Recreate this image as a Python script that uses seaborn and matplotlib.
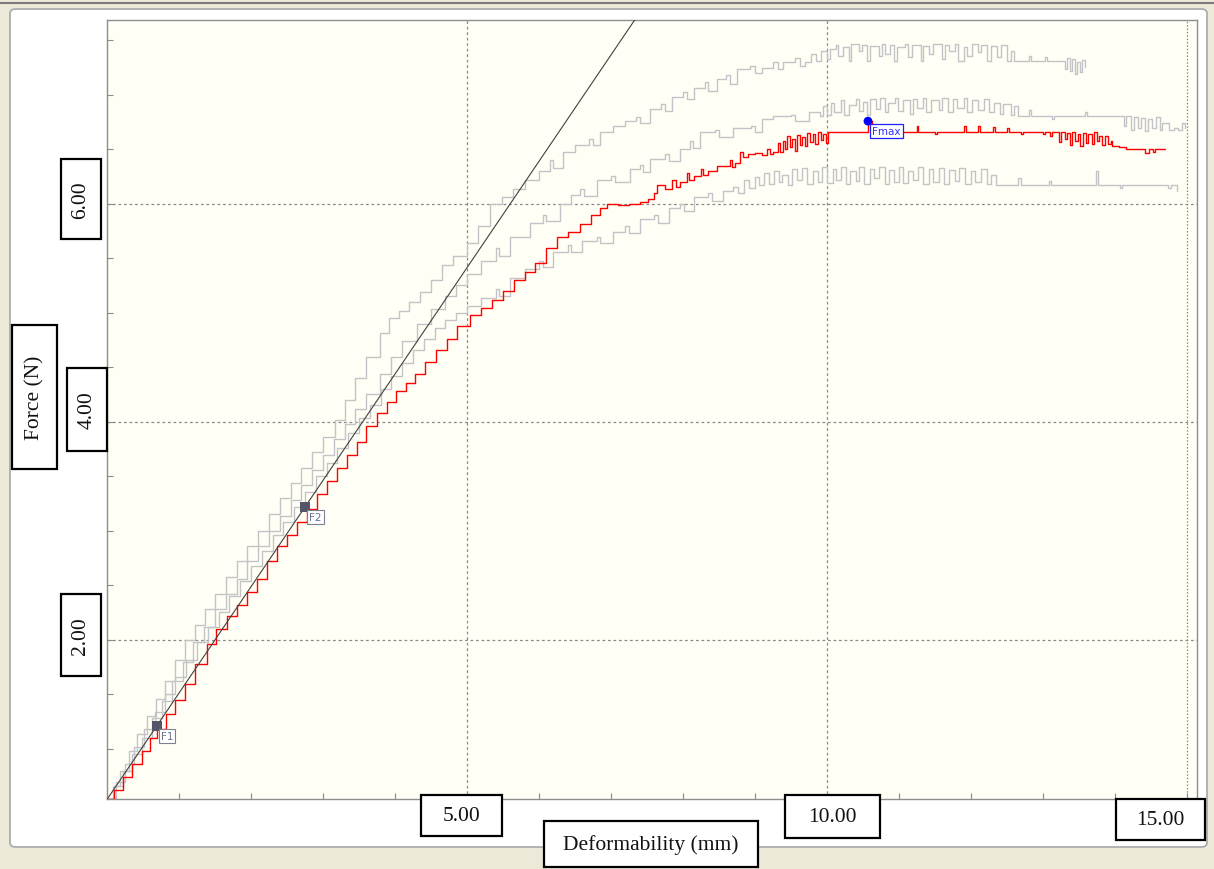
import numpy as np
import pandas as pd
import matplotlib
matplotlib.use("Agg")
import matplotlib.pyplot as plt
import seaborn as sns
from matplotlib.patches import Rectangle, FancyBboxPatch
from matplotlib.lines import Line2D

# ---------------- data ----------------
red_pts = [(0.00,0.54),(0.10,0.62),(0.22,0.74),(0.35,0.86),(0.48,0.98),(0.60,1.10),(0.69,1.18),
    (0.82,1.32),(0.95,1.45),(1.08,1.60),(1.22,1.78),(1.39,1.96),(1.52,2.10),(1.66,2.22),(1.80,2.32),
    (1.94,2.44),(2.08,2.56),(2.22,2.72),(2.36,2.86),(2.50,2.96),(2.64,3.08),(2.78,3.20),(2.92,3.34),
    (3.06,3.46),(3.20,3.58),(3.34,3.70),(3.47,3.82),(3.60,3.96),(3.75,4.08),(3.89,4.18),(4.02,4.28),
    (4.15,4.36),(4.28,4.44),(4.42,4.55),(4.57,4.66),(4.72,4.76),(4.86,4.88),(5.04,4.98),(5.20,5.05),
    (5.35,5.12),(5.50,5.20),(5.65,5.30),(5.80,5.38),(5.95,5.46),(6.10,5.60),(6.25,5.70),(6.40,5.74),
    (6.57,5.82),(6.72,5.90),(6.85,5.96),(6.94,6.00),(7.10,5.99),(7.25,6.00),(7.40,6.02),(7.52,6.05),
    (7.60,6.10),(7.64,6.17),(7.75,6.14),(7.85,6.22),(7.90,6.16),(7.96,6.20),(8.05,6.28),(8.09,6.22),
    (8.15,6.26),(8.25,6.32),(8.28,6.27),(8.35,6.30),(8.47,6.35),(8.55,6.35),(8.65,6.40),(8.68,6.34),
    (8.72,6.38),(8.79,6.48),(8.84,6.43),(8.90,6.46),(9.00,6.47),(9.10,6.45),(9.17,6.50),(9.21,6.46),
    (9.25,6.48),(9.32,6.56),(9.35,6.48),(9.39,6.58),(9.42,6.50),(9.45,6.62),(9.49,6.52),(9.52,6.60),
    (9.56,6.49),(9.58,6.63),(9.62,6.54),(9.65,6.61),(9.69,6.53),(9.72,6.65),(9.76,6.57),(9.80,6.64),
    (9.84,6.55),(9.88,6.66),(9.92,6.59),(9.95,6.64),(9.98,6.56),(10.02,6.66),(10.30,6.66),(10.50,6.66),
    (10.57,6.76),(10.62,6.66),(11.23,6.66),(11.25,6.72),(11.27,6.66),(11.50,6.64),(11.53,6.66),
    (11.90,6.72),(11.93,6.66),(12.10,6.72),(12.13,6.66),(12.30,6.71),(12.33,6.66),(12.50,6.70),(12.53,6.66),
    (12.70,6.64),(12.73,6.66),(13.00,6.64),(13.03,6.66),(13.10,6.62),(13.13,6.66),(13.22,6.57),
    (13.25,6.66),(13.30,6.60),(13.33,6.65),(13.38,6.54),(13.41,6.66),(13.45,6.58),(13.49,6.64),
    (13.52,6.53),(13.55,6.65),(13.60,6.56),(13.63,6.64),(13.68,6.55),(13.71,6.66),(13.75,6.58),
    (13.78,6.62),(13.82,6.54),(13.86,6.62),(13.90,6.55),(13.94,6.58),(13.96,6.53),(14.05,6.52),
    (14.15,6.50),(14.40,6.50),(14.42,6.47),(14.47,6.50),(14.53,6.48),(14.56,6.50),(14.70,6.50)]

gray_a_pts = [(0.00,0.54),(0.08,0.66),(0.18,0.80),(0.30,0.98),(0.42,1.14),(0.55,1.30),(0.68,1.46),
    (0.80,1.62),(0.94,1.82),(1.08,2.00),(1.22,2.14),(1.36,2.28),(1.50,2.42),(1.65,2.58),(1.80,2.72),
    (1.95,2.86),(2.10,3.00),(2.25,3.16),(2.40,3.30),(2.55,3.44),(2.70,3.58),(2.85,3.72),(3.00,3.86),
    (3.17,4.02),(3.30,4.20),(3.45,4.40),(3.60,4.60),(3.79,4.82),(3.92,4.95),(4.05,5.02),(4.20,5.10),
    (4.35,5.19),(4.50,5.30),(4.65,5.44),(4.80,5.52),(5.00,5.64),(5.15,5.80),(5.32,6.00),(5.48,6.06),
    (5.64,6.14),(5.80,6.22),(6.00,6.30),(6.15,6.40),(6.20,6.33),(6.33,6.48),(6.50,6.54),(6.70,6.60),
    (6.75,6.54),(6.85,6.66),(7.03,6.72),(7.20,6.76),(7.35,6.80),(7.40,6.74),(7.54,6.87),(7.70,6.92),
    (7.75,6.85),(7.85,6.98),(8.00,7.03),(8.05,6.96),(8.15,7.06),(8.30,7.12),(8.35,7.04),(8.47,7.15),
    (8.60,7.18),(8.66,7.10),(8.75,7.24),(8.93,7.27),(9.00,7.20),(9.10,7.25),(9.25,7.30),(9.32,7.24),
    (9.39,7.30),(9.55,7.34),(9.62,7.27),(9.70,7.30),(9.78,7.38),(9.85,7.31),(9.92,7.40),(10.00,7.33),
    (10.04,7.42),(10.12,7.46),(10.16,7.36),(10.22,7.44),(10.30,7.31),(10.34,7.47),(10.45,7.40),
    (10.49,7.46),(10.55,7.31),(10.60,7.45),(10.72,7.36),(10.76,7.47),(10.80,7.38),(10.88,7.46),
    (10.93,7.31),(10.97,7.44),(11.08,7.47),(11.12,7.35),(11.18,7.46),(11.30,7.31),(11.34,7.45),
    (11.42,7.38),(11.47,7.47),(11.60,7.33),(11.64,7.46),(11.70,7.40),(11.78,7.47),(11.82,7.31),
    (11.90,7.44),(11.95,7.36),(12.02,7.47),(12.10,7.39),(12.14,7.46),(12.22,7.31),(12.28,7.45),
    (12.36,7.35),(12.42,7.46),(12.50,7.31),(12.56,7.40),(12.60,7.31),(12.80,7.36),(12.83,7.31),
    (13.00,7.31),(13.03,7.35),(13.06,7.31),(13.26,7.31),(13.30,7.24),(13.33,7.34),(13.37,7.22),
    (13.40,7.33),(13.44,7.19),(13.47,7.30),(13.51,7.21),(13.54,7.32),(13.58,7.26)]

gray_b_pts = [(0.00,0.54),(0.10,0.66),(0.22,0.80),(0.35,0.95),(0.48,1.10),(0.62,1.28),(0.76,1.44),
    (0.90,1.62),(1.05,1.80),(1.20,1.98),(1.35,2.12),(1.50,2.28),(1.65,2.42),(1.80,2.56),(1.95,2.72),
    (2.10,2.86),(2.25,3.00),(2.40,3.14),(2.55,3.28),(2.70,3.42),(2.85,3.56),(3.00,3.70),(3.15,3.84),
    (3.30,3.98),(3.45,4.12),(3.60,4.26),(3.79,4.44),(3.95,4.60),(4.10,4.74),(4.30,4.90),(4.50,5.04),
    (4.70,5.16),(4.85,5.26),(5.00,5.36),(5.20,5.48),(5.40,5.60),(5.45,5.52),(5.60,5.70),(5.88,5.83),
    (6.05,5.90),(6.10,5.84),(6.29,6.00),(6.45,6.08),(6.57,6.14),(6.62,6.07),(6.80,6.22),(7.00,6.26),
    (7.05,6.20),(7.26,6.32),(7.40,6.36),(7.45,6.29),(7.54,6.41),(7.75,6.46),(7.80,6.39),(7.96,6.50),
    (8.10,6.58),(8.14,6.51),(8.24,6.66),(8.45,6.68),(8.50,6.61),(8.70,6.70),(8.95,6.72),(9.00,6.66),
    (9.10,6.78),(9.25,6.81),(9.50,6.82),(9.55,6.76),(9.75,6.84),(9.90,6.81),(9.95,6.90),(10.00,6.82),
    (10.06,6.93),(10.10,6.84),(10.20,6.95),(10.24,6.82),(10.30,6.91),(10.40,6.96),(10.44,6.85),
    (10.50,6.94),(10.56,6.82),(10.60,6.96),(10.68,6.87),(10.73,6.97),(10.80,6.84),(10.85,6.93),
    (10.95,6.97),(10.99,6.85),(11.05,6.95),(11.15,6.83),(11.20,6.96),(11.25,6.88),(11.33,6.97),
    (11.38,6.84),(11.45,6.95),(11.55,6.86),(11.60,6.97),(11.68,6.84),(11.75,6.96),(11.80,6.88),
    (11.90,6.97),(11.95,6.84),(12.02,6.95),(12.10,6.86),(12.18,6.96),(12.25,6.84),(12.32,6.93),
    (12.40,6.83),(12.45,6.92),(12.55,6.82),(12.60,6.90),(12.66,6.81),(12.80,6.86),(12.83,6.81),
    (13.10,6.81),(13.13,6.78),(13.16,6.81),(13.55,6.81),(13.58,6.84),(13.61,6.81),(13.85,6.81),
    (14.05,6.81),(14.12,6.72),(14.16,6.81),(14.22,6.68),(14.27,6.80),(14.32,6.70),(14.36,6.79),
    (14.42,6.67),(14.46,6.78),(14.52,6.70),(14.57,6.80),(14.62,6.68),(14.66,6.74),(14.75,6.68),
    (14.82,6.70),(14.88,6.68),(14.93,6.74),(14.97,6.70)]

gray_d_pts = [(0.00,0.54),(0.12,0.70),(0.25,0.86),(0.38,1.02),(0.52,1.18),(0.66,1.34),(0.80,1.50),
    (0.95,1.66),(1.10,1.82),(1.25,1.98),(1.40,2.12),(1.55,2.26),(1.70,2.40),(1.85,2.54),(2.00,2.68),
    (2.15,2.82),(2.30,2.96),(2.45,3.08),(2.60,3.22),(2.75,3.36),(2.90,3.50),(3.05,3.62),(3.20,3.76),
    (3.35,3.90),(3.50,4.04),(3.65,4.16),(3.80,4.30),(3.95,4.42),(4.10,4.54),(4.25,4.66),(4.40,4.76),
    (4.55,4.86),(4.70,4.94),(4.85,5.00),(5.00,5.06),(5.20,5.14),(5.40,5.22),(5.44,5.16),(5.60,5.32),
    (5.80,5.40),(6.00,5.48),(6.05,5.42),(6.20,5.56),(6.40,5.62),(6.45,5.56),(6.60,5.66),(6.80,5.70),
    (6.85,5.64),(7.03,5.74),(7.20,5.80),(7.25,5.73),(7.40,5.86),(7.60,5.90),(7.65,5.83),(7.80,5.96),
    (7.96,6.00),(8.02,5.94),(8.15,6.06),(8.35,6.10),(8.40,6.03),(8.55,6.12),(8.70,6.16),(8.76,6.10),
    (8.85,6.22),(8.92,6.15),(9.00,6.25),(9.05,6.17),(9.12,6.28),(9.20,6.18),(9.26,6.30),(9.33,6.20),
    (9.38,6.27),(9.46,6.17),(9.52,6.32),(9.58,6.22),(9.66,6.33),(9.72,6.18),(9.80,6.30),(9.88,6.20),
    (9.93,6.34),(10.00,6.19),(10.08,6.32),(10.12,6.22),(10.20,6.34),(10.26,6.18),(10.32,6.30),
    (10.40,6.21),(10.45,6.34),(10.52,6.18),(10.60,6.32),(10.66,6.24),(10.72,6.34),(10.80,6.18),
    (10.86,6.31),(10.93,6.20),(11.00,6.34),(11.06,6.19),(11.12,6.30),(11.20,6.22),(11.26,6.34),
    (11.34,6.18),(11.42,6.32),(11.48,6.20),(11.55,6.33),(11.62,6.18),(11.70,6.31),(11.78,6.21),
    (11.84,6.33),(11.92,6.18),(12.00,6.30),(12.06,6.20),(12.14,6.32),(12.22,6.18),(12.28,6.27),
    (12.35,6.17),(12.62,6.17),(12.66,6.24),(12.70,6.17),(13.05,6.17),(13.08,6.21),(13.11,6.17),
    (13.72,6.17),(13.74,6.30),(13.77,6.17),(14.05,6.17),(14.07,6.15),(14.10,6.17),(14.72,6.17),
    (14.74,6.15),(14.78,6.17),(14.84,6.17),(14.86,6.12)]

f1_point = (0.69, 1.21)
f2_point = (2.75, 3.22)
fmax_point = (10.57, 6.76)

x_grid = [5, 10]
x_grid_end = [15]
y_grid = [2, 4, 6]
x_tick_labels = ["5.00", "10.00", "15.00"]
y_tick_labels = ["6.00", "4.00", "2.00"]
x_label = "Deformability (mm)"
y_label = "Force (N)"

# ---------------- figure ----------------
sns.set_theme(style="white")
plt.rcParams["font.family"] = ["Liberation Serif", "DejaVu Serif"]

W, H = 1214, 870
fig = plt.figure(figsize=(W / 100, H / 100), dpi=100, facecolor="#ECE9D8")

def fx(px):
    return px / W

def fy(py):
    return 1 - py / H

# window frame (behind the axes)
fig.add_artist(Line2D([0, 1], [fy(4), fy(4)], transform=fig.transFigure, color="#7A7A7A",
                      lw=1.5, zorder=-2))
panel = FancyBboxPatch((fx(10), fy(848)), fx(1207) - fx(10), fy(10) - fy(848),
                       boxstyle="round,pad=0,rounding_size=0.005", transform=fig.transFigure,
                       facecolor="white", edgecolor="#A8A8A8", lw=1.2, zorder=-1)
fig.add_artist(panel)

ax = fig.add_axes([fx(107), fy(800), fx(1197) - fx(107), fy(21) - fy(800)])
ax.set_zorder(1)
ax.set_facecolor("#FFFFF6")
ax.set_xlim(0, 15.14)
ax.set_ylim(0.541, 7.688)

for gx in x_grid:
    ax.axvline(gx, color="#8A8A8A", lw=0.9, ls=(0, (2.2, 2.2)), zorder=1)
for gx in x_grid_end:
    ax.axvline(gx, color="#8A8A8A", lw=0.9, ls=(0, (1.2, 1.5)), zorder=1)
for gy in y_grid:
    ax.axhline(gy, color="#8A8A8A", lw=0.9, ls=(0, (2.2, 2.2)), zorder=1)

def to_df(pts):
    return pd.DataFrame(pts, columns=["x", "y"])

gray = "#C3C3C8"
for pts in (gray_a_pts, gray_b_pts, gray_d_pts):
    d = to_df(pts)
    sns.lineplot(data=d, x="x", y="y", ax=ax, color=gray, lw=1.0, sort=False,
                 estimator=None, drawstyle="steps-post", zorder=2)

d = to_df(red_pts)
sns.lineplot(data=d, x="x", y="y", ax=ax, color="#FF0000", lw=1.0, sort=False,
             estimator=None, drawstyle="steps-post", zorder=3)

# tangent through F1 and F2
slope = (f2_point[1] - f1_point[1]) / (f2_point[0] - f1_point[0])
intercept = f1_point[1] - slope * f1_point[0]
tx = np.array([0.0, 8.0])
sns.lineplot(x=tx, y=intercept + slope * tx, ax=ax, color="#404040", lw=0.8, zorder=4)

# markers
mk = pd.DataFrame([f1_point, f2_point], columns=["x", "y"])
sns.scatterplot(data=mk, x="x", y="y", ax=ax, marker="s", s=55, color="#55556A",
                edgecolor="none", zorder=5)
sns.scatterplot(x=[fmax_point[0]], y=[fmax_point[1]], ax=ax, marker="o", s=40,
                color="#0000FF", edgecolor="none", zorder=5)

for lab, pt in (("F1", f1_point), ("F2", f2_point)):
    ax.annotate(lab, xy=pt, xytext=(4, -5), textcoords="offset pixels", ha="left", va="top",
                fontsize=7.5, family="DejaVu Sans", color="#6A7090", zorder=6,
                bbox=dict(boxstyle="square,pad=0.2", fc="white", ec="#808090", lw=0.8))
ax.annotate("Fmax", xy=fmax_point, xytext=(4, -5), textcoords="offset pixels", ha="left", va="top",
            fontsize=7.5, family="DejaVu Sans", color="#3030FF", zorder=6,
            bbox=dict(boxstyle="square,pad=0.2", fc="white", ec="#2020FF", lw=0.9))

ax.set_xticks(np.arange(0, 16, 1))
ax.set_yticks(np.arange(1.0, 7.6, 0.5))
ax.tick_params(direction="in", length=4, width=0.8, color="#8A8A8A",
               labelbottom=False, labelleft=False, bottom=True, left=True)
ax.set_xlabel("")
ax.set_ylabel("")
for s in ax.spines.values():
    s.set_color("#8E8E8E")
    s.set_linewidth(1.0)

# boxed labels (pixel boxes)
def boxed(x0, y0, x1, y1, text, rot=0, size=15.5):
    r = Rectangle((fx(x0), fy(y1)), fx(x1) - fx(x0), fy(y0) - fy(y1), transform=fig.transFigure,
                  facecolor="white", edgecolor="black", lw=1.6, zorder=10)
    fig.add_artist(r)
    fig.text(fx((x0 + x1) / 2), fy((y0 + y1) / 2), text, rotation=rot, ha="center", va="center",
             fontsize=size, color="#111111", zorder=11)

boxed(61, 160, 101, 240, y_tick_labels[0], rot=90)
boxed(67, 369, 107, 452, y_tick_labels[1], rot=90)
boxed(61, 595, 101, 677, y_tick_labels[2], rot=90)
boxed(12, 326, 57, 470, y_label, rot=90)
boxed(421, 796, 502, 837, x_tick_labels[0])
boxed(785, 796, 880, 839, x_tick_labels[1])
boxed(1116, 800, 1205, 841, x_tick_labels[2])
boxed(544, 822, 758, 868, x_label)

fig.savefig("out.png", dpi=100, facecolor=fig.get_facecolor())
